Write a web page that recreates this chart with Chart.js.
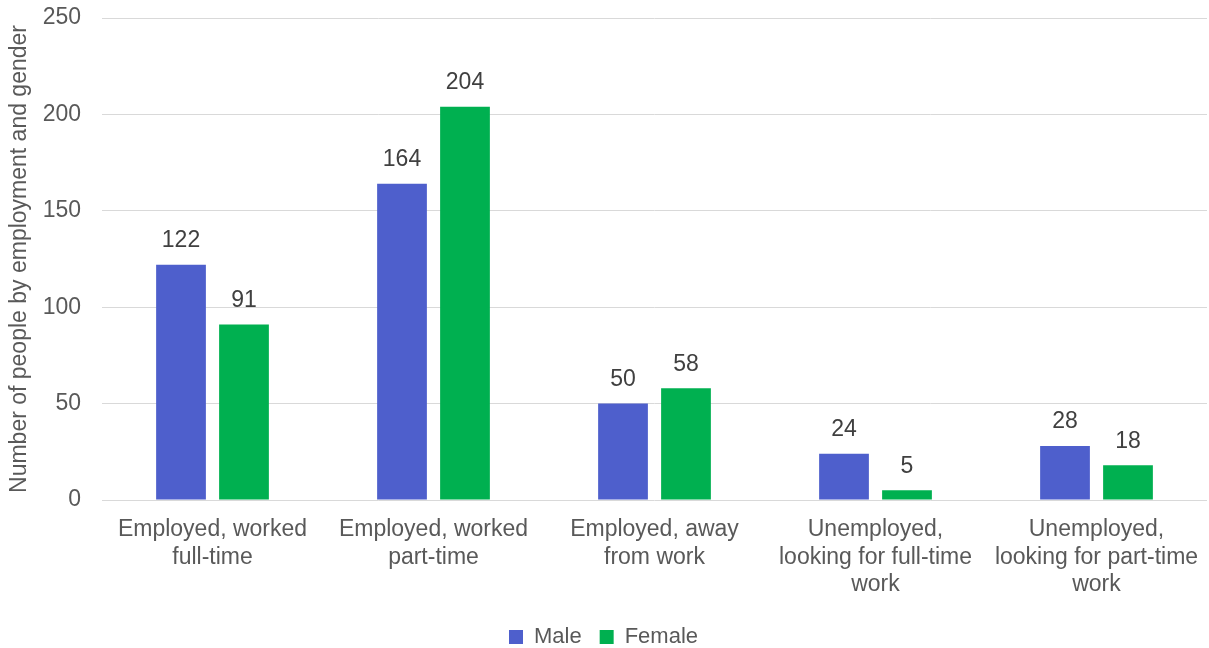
<!DOCTYPE html>
<html>
<head>
<meta charset="utf-8">
<script src="https://cdn.jsdelivr.net/npm/chart.js@4.4.1/dist/chart.umd.min.js"></script>
<style>
  html, body { margin: 0; padding: 0; background: #fff; }
  #wrap { width: 1209px; height: 648px; }
</style>
</head>
<body>
<div id="wrap"><canvas id="chart" width="1209" height="648"></canvas></div>
<script>
const categories = [
    ['Employed, worked', 'full-time'],
    ['Employed, worked', 'part-time'],
    ['Employed, away', 'from work'],
    ['Unemployed,', 'looking for full-time', 'work'],
    ['Unemployed,', 'looking for part-time', 'work']
];
const maleValues = [122, 164, 50, 24, 28];
const femaleValues = [91, 204, 58, 5, 18];
const yTicks = [0, 50, 100, 150, 200, 250];

const textColor = '#595959';
const fontFamily = '"Liberation Sans", Arial, sans-serif';

// draws the value above each bar
const barLabels = {
    id: 'barLabels',
    afterDatasetsDraw(chart) {
        const ctx = chart.ctx;
        ctx.save();
        ctx.font = '23px ' + fontFamily;
        ctx.fillStyle = '#404040';
        ctx.textAlign = 'center';
        ctx.textBaseline = 'middle';
        chart.data.datasets.forEach((ds, i) => {
            chart.getDatasetMeta(i).data.forEach((bar, j) => {
                ctx.fillText(ds.data[j], bar.x, bar.y - 24);
            });
        });
        ctx.restore();
    }
};

new Chart(document.getElementById('chart'), {
    type: 'bar',
    data: {
        labels: categories,
        datasets: [
            { label: 'Male', data: maleValues, backgroundColor: '#4e5fcc', categoryPercentage: 0.57, barPercentage: 0.79 },
            { label: 'Female', data: femaleValues, backgroundColor: '#00b050', categoryPercentage: 0.57, barPercentage: 0.79 }
        ]
    },
    options: {
        responsive: false,
        animation: false,
        layout: { padding: { top: 4, right: 2, left: 0, bottom: -10 } },
        plugins: {
            legend: {
                position: 'bottom',
                labels: {
                    boxWidth: 14,
                    boxHeight: 14,
                    padding: 18,
                    color: textColor,
                    font: { family: fontFamily, size: 22 }
                }
            },
            tooltip: { enabled: false }
        },
        scales: {
            x: {
                afterFit(scale) {
                    scale.height = 108;
                    scale.paddingRight = 0;
                    scale.paddingLeft = 0;
                },
                grid: { display: false },
                border: { display: false },
                ticks: {
                    color: textColor,
                    padding: 8,
                    font: { family: fontFamily, size: 23, lineHeight: 1.2 },
                    maxRotation: 0,
                    autoSkip: false
                }
            },
            y: {
                min: 0,
                max: 250,
                afterBuildTicks(scale) {
                    scale.ticks = yTicks.map(v => ({ value: v }));
                },
                afterFit(scale) {
                    scale.width = 102;
                    scale.paddingTop = 18;
                },
                grid: { color: '#d9d9d9', drawTicks: false },
                border: { display: false },
                ticks: {
                    color: textColor,
                    padding: 21,
                    font: { family: fontFamily, size: 23 }
                },
                title: {
                    display: true,
                    text: 'Number of people by employment and gender',
                    color: textColor,
                    padding: { top: 6, bottom: 0 },
                    font: { family: fontFamily, size: 23 }
                }
            }
        }
    },
    plugins: [barLabels]
});
</script>
</body>
</html>
